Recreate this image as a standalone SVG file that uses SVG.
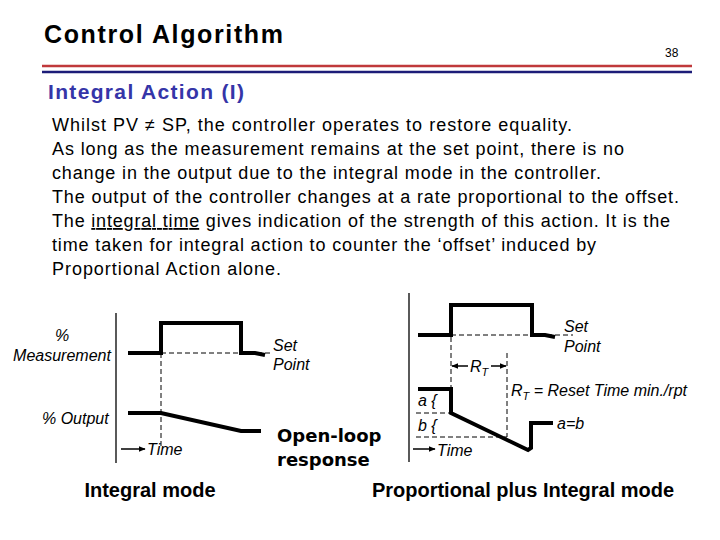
<svg xmlns="http://www.w3.org/2000/svg" width="720" height="540" viewBox="0 0 720 540">
<style>
.t{font-family:"Liberation Sans",Arial,sans-serif;fill:#000}
.it{font-family:"Liberation Sans",Arial,sans-serif;font-style:italic;font-size:16px;fill:#000}
.ax{stroke:#000;stroke-width:1.3;fill:none}
.sig{stroke:#000;stroke-width:4;fill:none;stroke-linejoin:miter}
.dash{stroke:#000;stroke-width:1;stroke-dasharray:5,3;fill:none}
.arr{stroke:#000;stroke-width:1.5;fill:none}
.bt{font-family:"Liberation Sans",Arial,sans-serif;font-weight:bold;font-size:20px;fill:#000}
.cm{font-family:"Comic Sans MS","DejaVu Sans",sans-serif;font-weight:bold;font-size:18px;fill:#000}
.body{font-family:"Liberation Sans",Arial,sans-serif;font-size:18px;fill:#000}
</style>
<defs>
<marker id="ah" viewBox="0 0 10 10" refX="9" refY="5" markerWidth="7" markerHeight="7" orient="auto" markerUnits="userSpaceOnUse"><path d="M0,1 L10,5 L0,9 z" fill="#000"/></marker>
</defs>
<rect width="720" height="540" fill="#fff"/>
<g id="header">
<text class="t" x="44" y="43" font-size="25" font-weight="bold" textLength="239" lengthAdjust="spacing">Control Algorithm</text>
<text class="t" x="665" y="57" font-size="12">38</text>
<line x1="42" y1="66" x2="692" y2="66" stroke="#c0393b" stroke-width="2.5"/>
<line x1="42" y1="72" x2="692" y2="72" stroke="#1c1c78" stroke-width="2.5"/>
<text x="48" y="99" font-family="Liberation Sans, Arial, sans-serif" font-size="21" font-weight="bold" fill="#3535a8" textLength="196" lengthAdjust="spacing">Integral Action (I)</text>
</g>
<g id="body">
<text class="body" x="52" y="131" textLength="520" lengthAdjust="spacing">Whilst PV  ≠ SP, the controller operates to restore equality.</text>
<text class="body" x="52" y="155" textLength="572" lengthAdjust="spacing">As long as the measurement remains at the set point, there is no</text>
<text class="body" x="52" y="179" textLength="549" lengthAdjust="spacing">change in the output due to the integral mode in the controller.</text>
<text class="body" x="52" y="203" textLength="627" lengthAdjust="spacing">The output of the controller changes at a rate proportional to the offset.</text>
<text class="body" x="52" y="227" textLength="618" lengthAdjust="spacing">The <tspan text-decoration="underline">integral time</tspan> gives indication of the strength of this action. It is the</text>
<text class="body" x="52" y="251" textLength="544" lengthAdjust="spacing">time taken for integral action to counter the ‘offset’ induced by</text>
<text class="body" x="52" y="275" textLength="229" lengthAdjust="spacing">Proportional Action alone.</text>
</g>
<g id="integral-mode">
<line class="ax" x1="116" y1="313" x2="116" y2="463"/>
<polyline class="sig" points="128,353 161,353 161,323 241,323 241,353 255,353 265,355"/>
<line class="dash" x1="161" y1="353" x2="272" y2="353"/>
<line class="dash" x1="161" y1="353" x2="161" y2="447"/>
<polyline class="sig" points="128,413 161,413 241,431 261,431"/>
<text class="it" x="62" y="341" text-anchor="middle">%</text>
<text class="it" x="62" y="361" text-anchor="middle">Measurement</text>
<text class="it" x="273" y="351">Set</text>
<text class="it" x="273" y="370">Point</text>
<text class="it" x="42" y="424">% Output</text>
<line class="arr" x1="121" y1="449" x2="145" y2="449" marker-end="url(#ah)"/>
<text class="it" x="147" y="455">Time</text>
<text class="bt" x="150" y="497" text-anchor="middle">Integral mode</text>
</g>
<g id="open-loop">
<text class="cm" x="277" y="442">Open-loop</text>
<text class="cm" x="277" y="466">response</text>
</g>
<g id="pi-mode">
<line class="ax" x1="409" y1="293" x2="409" y2="462"/>
<polyline class="sig" points="418,335 451,335 451,305 532,305 532,335 545,335 555,337"/>
<line class="dash" x1="451" y1="335" x2="573" y2="335"/>
<text class="it" x="564" y="332">Set</text>
<text class="it" x="564" y="352">Point</text>
<line class="dash" x1="451" y1="337" x2="451" y2="390"/>
<line class="dash" x1="507" y1="353" x2="507" y2="437"/>
<line class="arr" x1="468" y1="366" x2="452" y2="366" marker-end="url(#ah)"/>
<line class="arr" x1="491" y1="366" x2="506" y2="366" marker-end="url(#ah)"/>
<text class="it" x="470" y="372">R<tspan font-size="11" dy="4">T</tspan></text>
<polyline class="sig" points="418,389 451,389 451,413 528,450 531,448 531,423 553,423"/>
<line class="dash" x1="416" y1="413" x2="451" y2="413"/>
<line class="dash" x1="416" y1="437" x2="507" y2="437"/>
<text class="it" x="418" y="406">a {</text>
<text class="it" x="418" y="431">b {</text>
<text class="it" x="511" y="396">R<tspan font-size="11" dy="4">T</tspan><tspan dy="-4"> = Reset Time min./rpt</tspan></text>
<text class="it" x="557" y="429">a=b</text>
<line class="arr" x1="413" y1="449" x2="435" y2="449" marker-end="url(#ah)"/>
<text class="it" x="437" y="456">Time</text>
<text class="bt" x="523" y="497" text-anchor="middle">Proportional plus Integral mode</text>
</g>
</svg>
